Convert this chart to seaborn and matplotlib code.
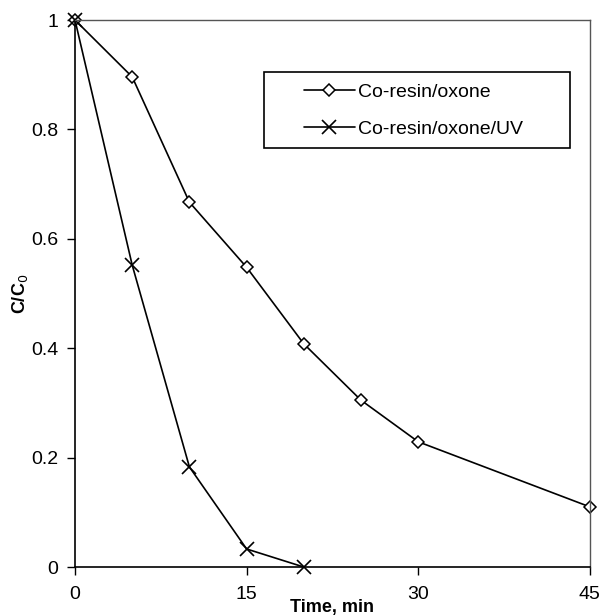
import matplotlib
matplotlib.use("Agg")
import matplotlib.pyplot as plt
from matplotlib.patches import Rectangle
import seaborn as sns
import pandas as pd

time_a = [0, 5, 10, 15, 20, 25, 30, 45]
ratio_a = [1.0, 0.896, 0.667, 0.548, 0.408, 0.305, 0.229, 0.110]
time_b = [0, 5, 10, 15, 20]
ratio_b = [1.0, 0.552, 0.183, 0.033, 0.0]
label_a = "Co-resin/oxone"
label_b = "Co-resin/oxone/UV"
x_ticks = [0, 15, 30, 45]
y_ticks = [0, 0.2, 0.4, 0.6, 0.8, 1]
y_tick_labels = ["0", "0.2", "0.4", "0.6", "0.8", "1"]

sns.set_theme(style="white")
plt.rcParams['font.family'] = ['Liberation Sans', 'DejaVu Sans']
plt.rcParams['text.color'] = 'black'
plt.rcParams['axes.labelcolor'] = 'black'
plt.rcParams['xtick.color'] = 'black'
plt.rcParams['ytick.color'] = 'black'

df_a = pd.DataFrame({"t": time_a, "r": ratio_a})
df_b = pd.DataFrame({"t": time_b, "r": ratio_b})

fig = plt.figure(figsize=(6, 6.16), dpi=100)
ax = fig.add_axes([0.125, 0.0795, 0.858, 0.888])

sns.lineplot(data=df_a, x="t", y="r", ax=ax, color="black", lw=1.2,
             marker="D", markersize=6.5, markerfacecolor="white",
             markeredgecolor="black", markeredgewidth=1.1, label=label_a,
             clip_on=False)
sns.lineplot(data=df_b, x="t", y="r", ax=ax, color="black", lw=1.2,
             marker="x", markersize=10, markeredgewidth=1.2,
             markeredgecolor="black", label=label_b, clip_on=False)

ax.set_xlim(0, 45)
ax.set_ylim(0, 1)
ax.set_xticks(x_ticks)
ax.set_xticklabels([str(v) for v in x_ticks])
ax.set_yticks(y_ticks)
ax.set_yticklabels(y_tick_labels)
ax.tick_params(axis="both", direction="out", length=6, width=1, color="black",
               labelcolor="black", labelsize=14, bottom=True, left=True, pad=6)
ax.tick_params(axis="x", pad=8)

for side in ["left", "bottom"]:
    ax.spines[side].set_color("black")
    ax.spines[side].set_linewidth(1.2)
for side in ["top", "right"]:
    ax.spines[side].set_color("#555555")
    ax.spines[side].set_linewidth(1.0)

ax.set_xlabel("Time, min", fontsize=13, fontweight="bold", labelpad=-3,
              color="black")
ax.set_ylabel("C/C$_0$", fontsize=13, fontweight="bold", labelpad=1,
              color="black")

# legend frame drawn as a rectangle, legend itself without frame
ax.add_patch(Rectangle((0.367, 0.766), 0.594, 0.139, transform=ax.transAxes,
                       fill=True, facecolor="white", edgecolor="black",
                       lw=1.2, zorder=5, clip_on=False))
leg = ax.legend(loc="center left", bbox_to_anchor=(0.445, 0.835),
                fontsize=14, frameon=False, labelspacing=1.0,
                handlelength=2.6, handletextpad=0.15, borderpad=0,
                borderaxespad=0, labelcolor="black")
leg.set_zorder(6)

fig.savefig("out.png", dpi=100)
